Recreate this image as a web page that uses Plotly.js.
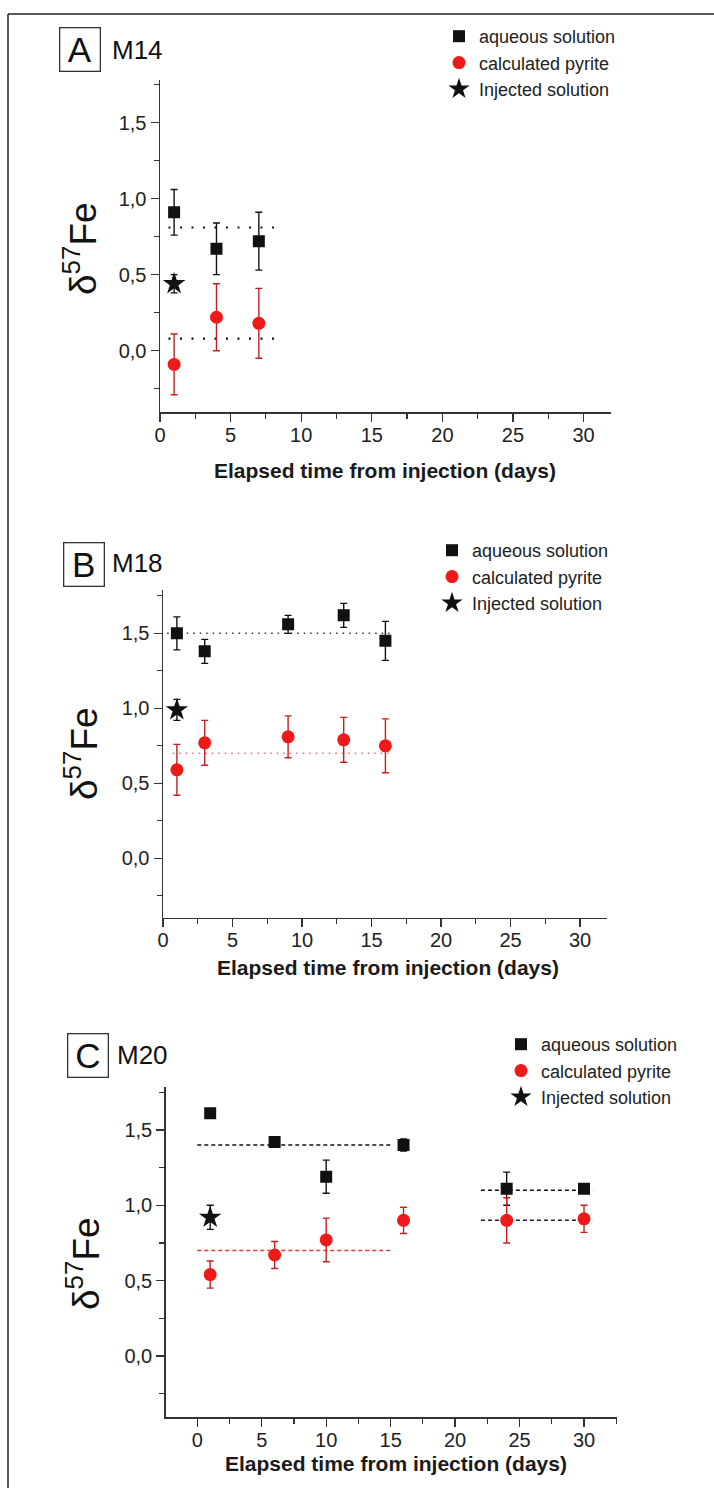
<!DOCTYPE html>
<html><head><meta charset="utf-8">
<script src="https://cdn.plot.ly/plotly-3.0.1.min.js"></script>
<style>html,body{margin:0;padding:0;background:#fff}</style>
</head><body><div id="chart" style="width:714px;height:1488px"></div>
<script>
// ---------- Panel A : M14 ----------
const A_aq_x = [1, 4, 7];
const A_aq_y = [0.91, 0.67, 0.72];
const A_aq_err = [0.15, 0.17, 0.19];
const A_py_x = [1, 4, 7];
const A_py_y = [-0.09, 0.22, 0.18];
const A_py_err = [0.20, 0.22, 0.23];
const A_inj_x = [1];
const A_inj_y = [0.44];
const A_inj_err = [0.06];
const A_meanAq_x = [0.6, 8.4];
const A_meanAq_y = [0.81, 0.81];
const A_meanPy_x = [0.6, 8.4];
const A_meanPy_y = [0.08, 0.08];

// ---------- Panel B : M18 ----------
const B_aq_x = [1, 3, 9, 13, 16];
const B_aq_y = [1.50, 1.38, 1.56, 1.62, 1.45];
const B_aq_err = [0.11, 0.08, 0.06, 0.08, 0.13];
const B_py_x = [1, 3, 9, 13, 16];
const B_py_y = [0.59, 0.77, 0.81, 0.79, 0.75];
const B_py_err = [0.17, 0.15, 0.14, 0.15, 0.18];
const B_inj_x = [1];
const B_inj_y = [0.99];
const B_inj_err = [0.07];
const B_meanAq_x = [0.3, 16.5];
const B_meanAq_y = [1.50, 1.50];
const B_meanPy_x = [0.7, 16.5];
const B_meanPy_y = [0.70, 0.70];

// ---------- Panel C : M20 ----------
const C_aq_x = [1, 6, 10, 16, 24, 30];
const C_aq_y = [1.61, 1.42, 1.19, 1.40, 1.11, 1.11];
const C_aq_err = [0.03, 0.01, 0.11, 0.04, 0.11, 0.01];
const C_py_x = [1, 6, 10, 16, 24, 30];
const C_py_y = [0.54, 0.67, 0.77, 0.90, 0.90, 0.91];
const C_py_err = [0.09, 0.09, 0.145, 0.087, 0.15, 0.09];
const C_inj_x = [1];
const C_inj_y = [0.92];
const C_inj_err = [0.08];
const C_meanAq1_x = [0, 15];
const C_meanAq1_y = [1.40, 1.40];
const C_meanPy1_x = [0, 15];
const C_meanPy1_y = [0.70, 0.70];
const C_meanAq2_x = [22, 30.7];
const C_meanAq2_y = [1.10, 1.10];
const C_meanPy2_x = [22, 30.7];
const C_meanPy2_y = [0.90, 0.90];

const seriesNames = ['aqueous solution', 'calculated pyrite', 'Injected solution'];
const panelLetters = ['A', 'B', 'C'];
const panelNames = ['M14', 'M18', 'M20'];
const xTitle = 'Elapsed time from injection (days)';
const yTitle = '\u03b4<sup>57</sup>Fe';

const FONT = 'Liberation Sans, Arial, sans-serif';
const BLACK = '#111111';
const RED = '#ee1a1a';
const RED_ERR = '#c42020';
const W = 714, H = 1488;
const px = v => v / W;
const py = v => 1 - v / H;

function pointTraces(ax, lg, aqx, aqy, aqe, pyx, pyy, pye, ijx, ijy, ije) {
  return [
    {x: aqx, y: aqy, type: 'scatter', mode: 'markers', name: seriesNames[0],
     xaxis: 'x' + ax, yaxis: 'y' + ax, legend: lg,
     marker: {symbol: 'square', size: 12, color: BLACK},
     error_y: {type: 'data', array: aqe, visible: true, color: BLACK, thickness: 1.4, width: 3.5}},
    {x: pyx, y: pyy, type: 'scatter', mode: 'markers', name: seriesNames[1],
     xaxis: 'x' + ax, yaxis: 'y' + ax, legend: lg,
     marker: {symbol: 'circle', size: 13, color: RED},
     error_y: {type: 'data', array: pye, visible: true, color: RED_ERR, thickness: 1.4, width: 3.5}},
    {x: ijx, y: ijy, type: 'scatter', mode: 'markers', name: seriesNames[2],
     xaxis: 'x' + ax, yaxis: 'y' + ax, legend: lg,
     marker: {symbol: 'star', size: 17, color: BLACK},
     error_y: {type: 'data', array: ije, visible: true, color: BLACK, thickness: 1.4, width: 3.5}}
  ];
}
function lineTrace(ax, xs, ys, color, dash, width) {
  return {x: xs, y: ys, type: 'scatter', mode: 'lines', showlegend: false, hoverinfo: 'skip',
          xaxis: 'x' + ax, yaxis: 'y' + ax, line: {color: color, dash: dash, width: width}};
}

const traces = [
  lineTrace('', A_meanAq_x, A_meanAq_y, BLACK, '2px,9.5px', 2.2),
  lineTrace('', A_meanPy_x, A_meanPy_y, BLACK, '2px,9.5px', 2.2),
  ...pointTraces('', 'legend', A_aq_x, A_aq_y, A_aq_err, A_py_x, A_py_y, A_py_err, A_inj_x, A_inj_y, A_inj_err),
  lineTrace('2', B_meanAq_x, B_meanAq_y, '#333333', '1.5px,5px', 1.5),
  lineTrace('2', B_meanPy_x, B_meanPy_y, '#e07070', '1.5px,5px', 1.5),
  ...pointTraces('2', 'legend2', B_aq_x, B_aq_y, B_aq_err, B_py_x, B_py_y, B_py_err, B_inj_x, B_inj_y, B_inj_err),
  lineTrace('3', C_meanAq1_x, C_meanAq1_y, BLACK, '4px,3px', 1.5),
  lineTrace('3', C_meanPy1_x, C_meanPy1_y, '#e03a3a', '4px,3px', 1.5),
  lineTrace('3', C_meanAq2_x, C_meanAq2_y, BLACK, '4px,3px', 1.5),
  lineTrace('3', C_meanPy2_x, C_meanPy2_y, '#222222', '4px,3px', 1.5),
  ...pointTraces('3', 'legend3', C_aq_x, C_aq_y, C_aq_err, C_py_x, C_py_y, C_py_err, C_inj_x, C_inj_y, C_inj_err)
];

function xAxis(domain, range, anchor) {
  return {domain: domain, range: range, anchor: anchor, showline: true, linewidth: 1.5, linecolor: '#333',
    showgrid: false, zeroline: false, ticks: 'outside', ticklen: 8, tickwidth: 1.3, tickcolor: '#333',
    ticklabelstandoff: -4,
    tick0: 0, dtick: 5, tickfont: {family: FONT, size: 20, color: '#222'},
    minor: {ticks: 'outside', ticklen: 5, tickwidth: 1.2, tickcolor: '#333', tick0: 0, dtick: 2.5, showgrid: false}};
}
function yAxis(domain, range, anchor) {
  return {domain: domain, range: range, anchor: anchor, showline: true, linewidth: 1.5, linecolor: '#333',
    showgrid: false, zeroline: false, ticks: 'outside', ticklen: 8, tickwidth: 1.3, tickcolor: '#333',
    tick0: 0, dtick: 0.5, tickformat: '.1f', tickfont: {family: FONT, size: 20, color: '#222'},
    minor: {ticks: 'outside', ticklen: 5, tickwidth: 1.2, tickcolor: '#333', tick0: 0, dtick: 0.25, showgrid: false}};
}

const annotations = [];
const boxPos = [[79.5, 49], [83.5, 564], [88, 1055.5]];
const namePos = [[110, 50], [110, 563], [115, 1055]];
const yTitlePos = [[80, 249], [81, 754], [83, 1264]];
const xTitleShift = [[0, -58], [3, -50], [5, -46]];
['', '2', '3'].forEach((s, i) => {
  annotations.push({text: panelLetters[i], xref: 'paper', yref: 'paper', x: px(boxPos[i][0]), y: py(boxPos[i][1]),
    xanchor: 'center', yanchor: 'middle', showarrow: false, font: {family: FONT, size: 35, color: '#111'},
    bordercolor: '#333', borderwidth: 1.3, borderpad: 0, width: 39, height: 42});
  annotations.push({text: panelNames[i], xref: 'paper', yref: 'paper', x: px(namePos[i][0]), y: py(namePos[i][1]),
    xanchor: 'left', yanchor: 'middle', showarrow: false, font: {family: FONT, size: 26, color: '#111'}});
  annotations.push({text: yTitle, xref: 'paper', yref: 'paper', x: px(yTitlePos[i][0]), y: py(yTitlePos[i][1]),
    xanchor: 'center', yanchor: 'middle', showarrow: false, textangle: -90, font: {family: FONT, size: 37, color: '#111'}});
  annotations.push({text: xTitle, xref: 'x' + s + ' domain', yref: 'y' + s + ' domain', x: 0.5, y: 0,
    xshift: xTitleShift[i][0], yshift: xTitleShift[i][1], xanchor: 'center', yanchor: 'middle', showarrow: false,
    font: {family: FONT, size: 21, color: '#1a1a1a', weight: 'bold'}});
});

function legendAt(xpx, ypx) {
  return {x: px(xpx), y: py(ypx), xref: 'paper', yref: 'paper', xanchor: 'left', yanchor: 'top',
    bgcolor: 'rgba(0,0,0,0)', borderwidth: 0, traceorder: 'normal',
    font: {family: FONT, size: 18, color: '#222'}};
}

const layout = {
  width: W, height: H, margin: {l: 0, r: 0, t: 0, b: 0},
  paper_bgcolor: '#fff', plot_bgcolor: 'rgba(0,0,0,0)', separators: ', ',
  font: {family: FONT, color: '#222'},
  xaxis: xAxis([px(160), px(610.7)], [0, 31.92], 'y'),
  yaxis: yAxis([py(412.3), py(80)], [-0.405, 1.78], 'x'),
  xaxis2: xAxis([px(163), px(606.7)], [0, 31.92], 'y2'),
  yaxis2: yAxis([py(917.7), py(590)], [-0.396, 1.789], 'x2'),
  xaxis3: xAxis([px(165.7), px(616.9)], [-2.45, 32.55], 'y3'),
  yaxis3: yAxis([py(1417.3), py(1087)], [-0.407, 1.785], 'x3'),
  legend: legendAt(439, 18),
  legend2: legendAt(432, 532),
  legend3: legendAt(501, 1026),
  annotations: annotations,
  shapes: [
    {type: 'line', xref: 'paper', yref: 'paper', x0: px(8), x1: 1, y0: py(14), y1: py(14), line: {color: '#222', width: 1.5}},
    {type: 'line', xref: 'paper', yref: 'paper', x0: px(8), x1: px(8), y0: py(14), y1: 0, line: {color: '#222', width: 1.5}}
  ],
  showlegend: true
};

Plotly.newPlot('chart', traces, layout, {displayModeBar: false, staticPlot: true});
</script></body></html>
